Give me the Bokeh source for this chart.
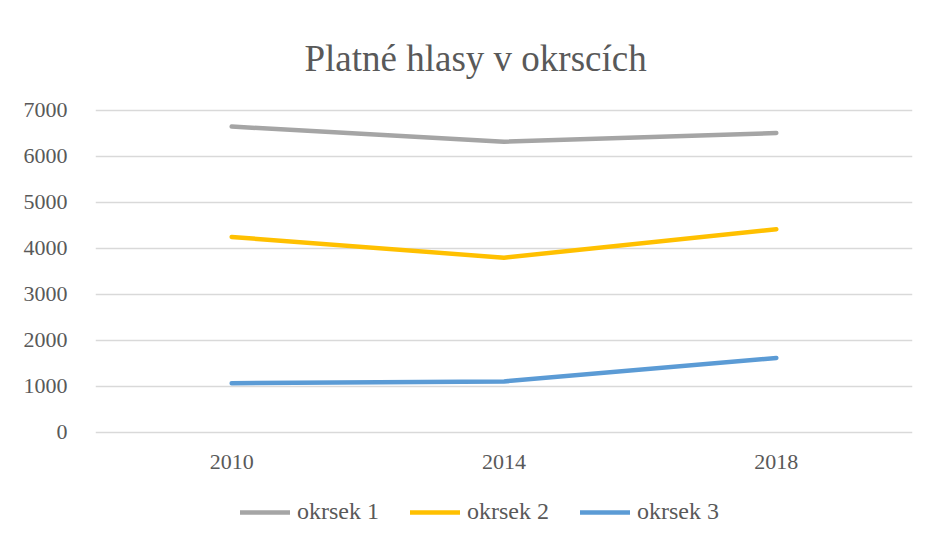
from bokeh.plotting import figure
from bokeh.models import FactorRange, Range1d, Legend, LegendItem, FixedTicker, Title
from bokeh.embed import file_html
from bokeh.resources import INLINE

years = ["2010", "2014", "2018"]
okrsek1 = [6640, 6310, 6500]
okrsek2 = [4240, 3790, 4410]
okrsek3 = [1060, 1100, 1610]
series_names = ["okrsek 1", "okrsek 2", "okrsek 3"]
colors = ["#A5A5A5", "#FFC000", "#5B9BD5"]
y_ticks = [0, 1000, 2000, 3000, 4000, 5000, 6000, 7000]

FONT = "Liberation Serif"
TXT = "#595959"

W, H = 920, 540
TOP = 100          # frame top in px
Y0_PX, Y7_PX = 431.5, 109.5   # pixel rows of 0 and 7000
scale = (Y0_PX - Y7_PX) / 7000.0
y_end = 7000 + (Y7_PX - TOP) / scale
y_start = -(H - Y0_PX) / scale

p = figure(width=W, height=H, output_backend="svg", toolbar_location=None,
           x_range=FactorRange(*years, range_padding=0), y_range=Range1d(y_start, y_end),
           min_border_left=95, min_border_right=8, min_border_top=TOP, min_border_bottom=0)

p.title = Title(text="Platné hlasy v okrscích", text_font=FONT, text_font_size="37px",
                text_font_style="normal", text_color=TXT, align="left", offset=209, standoff=44)

renderers = []
for vals, c in zip([okrsek1, okrsek2, okrsek3], colors):
    r = p.line(years, vals, line_color=c, line_width=4.5, line_cap="round", line_join="round")
    renderers.append(r)

p.outline_line_color = None
p.xgrid.grid_line_color = None
p.ygrid.grid_line_color = "#D9D9D9"
p.ygrid.grid_line_width = 1.3
p.yaxis.ticker = FixedTicker(ticks=y_ticks)
p.ygrid.ticker = FixedTicker(ticks=y_ticks)
p.xaxis.fixed_location = 0

for ax in (p.xaxis[0], p.yaxis[0]):
    ax.axis_line_color = None
    ax.major_tick_line_color = None
    ax.minor_tick_line_color = None
    ax.major_label_text_font = FONT
    ax.major_label_text_font_size = "22px"
    ax.major_label_text_color = TXT
p.xaxis.major_label_standoff = 17
p.yaxis.major_label_standoff = 22

legend = Legend(items=[LegendItem(label=n, renderers=[r]) for n, r in zip(series_names, renderers)],
                orientation="horizontal", location=(145, 15),
                label_text_font=FONT, label_text_font_size="24px", label_text_color=TXT,
                glyph_width=50, glyph_height=24, label_standoff=7, spacing=31,
                border_line_color=None, background_fill_alpha=0, margin=0, padding=0)
p.add_layout(legend, "center")

open("out.html", "w").write(file_html(p, INLINE))
